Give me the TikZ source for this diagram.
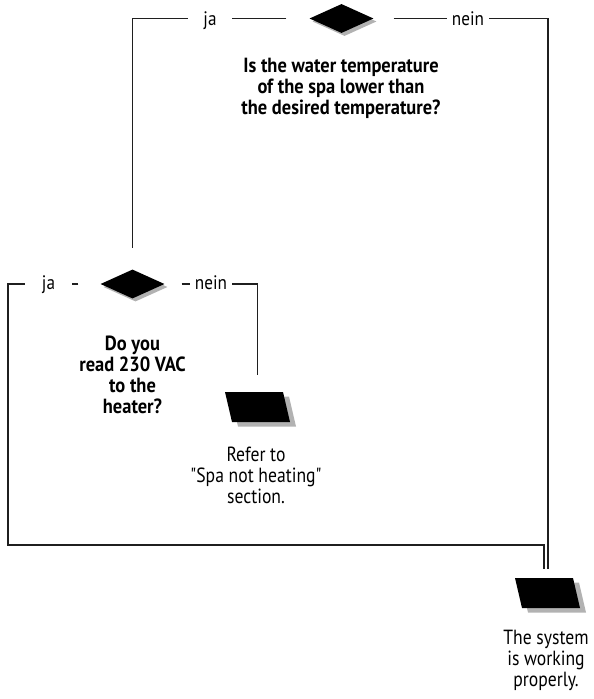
\documentclass[tikz,border=0pt]{standalone}
\usepackage{fontspec}
\setmainfont{PT Sans}[Ligatures=TeXOff]
\usetikzlibrary{shapes.geometric,shadows}
\newcommand\ParaFill[1]{%
  \fill[black!30, shift={(#1.center)}] (-26.5,-10.5) -- (31.5,-10.5) -- (38.5,19.5) -- (-19.5,19.5) -- cycle;
  \fill[black, shift={(#1.center)}] (-32.5,-15) -- (25.5,-15) -- (32.5,15) -- (-25.5,15) -- cycle;}
\begin{document}
\begin{tikzpicture}[x=1pt,y=-1pt,
  conn/.style={line width=1.6pt, draw=black!88},
  decision/.style={shape=diamond, fill=black, minimum width=64pt, minimum height=29pt, inner sep=0pt,
    drop shadow={shadow xshift=3pt, shadow yshift=-3pt, fill=black!30, opacity=1}},
  result/.style={shape=rectangle, minimum width=65pt, minimum height=30pt, inner sep=0pt},
  lbl/.style={fill=white, font=\fontsize{19.5}{20}\selectfont, inner ysep=1pt, anchor=base, xscale=0.88},
  qtext/.style={align=center, font=\bfseries\fontsize{20.5}{21}\selectfont, xscale=0.9},
  atext/.style={align=center, font=\fontsize{20.5}{21}\selectfont, xscale=0.86},
]
\useasboundingbox (0,0) rectangle (594,699);

\node[decision] (d1) at (341.5,18.5) {};
\node[decision] (d2) at (132.5,284) {};
\node[result] (p1) at (257.5,407) {};
\node[result] (p2) at (547.5,593) {};
\ParaFill{p1}
\ParaFill{p2}
\coordinate (bl) at (8,545);

\draw[conn, shorten <=23pt, shorten >=21pt] (d1.west) -| (d2.north);
\draw[conn, shorten <=20pt, shorten >=9pt] (d1.east) -| ([xshift=0.5pt]p2.north);
\draw[conn, shorten <=17pt, shorten >=17pt] (d2.east) -| (p1.north);
\draw[conn, shorten <=22pt, shorten >=9pt] (d2.west) -| (bl) -| ([xshift=-3.5pt]p2.north);

\node[lbl, inner xsep=18pt] (ja1) at (210,25) {ja};
\node[lbl, inner xsep=6pt] (nein1) at (468,25) {nein};
\node[lbl, inner xsep=19pt] (ja2) at (48.5,289.5) {ja};
\node[lbl, inner xsep=6pt] (nein2) at (211,289.5) {nein};

\node[qtext] (q1) at (341,88) {Is the water temperature\\of the spa lower than\\the desired temperature?};
\node[qtext] (q2) at (132.5,374.5) {Do you\\read 230 VAC\\to the\\heater?};
\node[atext] (a1) at (256,475) {Refer to\\"Spa not heating"\\section.};
\node[atext] (a2) at (546,660) {The system\\is working\\properly.};
\end{tikzpicture}
\end{document}
